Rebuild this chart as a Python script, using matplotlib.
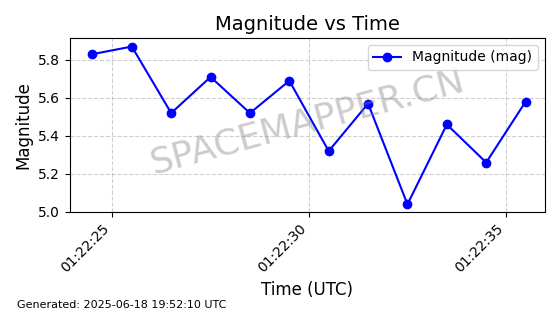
import pandas as pd
import matplotlib
matplotlib.use('Agg')
import matplotlib.pyplot as plt
import matplotlib.dates as mdates

# 觀測時間 與 星等
times = pd.to_datetime([
    '2025-06-18 01:22:24.5', '2025-06-18 01:22:25.5', '2025-06-18 01:22:26.5',
    '2025-06-18 01:22:27.5', '2025-06-18 01:22:28.5', '2025-06-18 01:22:29.5',
    '2025-06-18 01:22:30.5', '2025-06-18 01:22:31.5', '2025-06-18 01:22:32.5',
    '2025-06-18 01:22:33.5', '2025-06-18 01:22:34.5', '2025-06-18 01:22:35.5',
])
mags = [5.83, 5.87, 5.52, 5.71, 5.52, 5.69, 5.32, 5.57, 5.04, 5.46, 5.26, 5.58]
yticks = [5.0, 5.2, 5.4, 5.6, 5.8]
footer = 'Generated: 2025-06-18 19:52:10 UTC'

fig = plt.figure(figsize=(5.6, 3.14), dpi=100)
ax = fig.add_axes([0.125, 0.325, 0.848, 0.554])

ax.plot(times, mags, color='blue', marker='o', markersize=6, linewidth=1.5,
        label='Magnitude (mag)')

ax.set_title('Magnitude vs Time', fontsize=14)
ax.set_xlabel('Time (UTC)', fontsize=12)
ax.set_ylabel('Magnitude', fontsize=12)
ax.set_yticks(yticks)
ax.set_ylim(5.0, 5.915)
ax.set_xlim(pd.Timestamp('2025-06-18 01:22:23.93'), pd.Timestamp('2025-06-18 01:22:35.99'))
ax.xaxis.set_major_locator(mdates.SecondLocator(bysecond=[25, 30, 35]))
ax.xaxis.set_major_formatter(mdates.DateFormatter('%H:%M:%S'))
plt.setp(ax.get_xticklabels(), rotation=45, ha='right')
ax.grid(True, linestyle='--', alpha=0.6)
ax.legend(loc='upper right')

# 浮水印
ax.text(0.5, 0.52, 'SPACEMAPPER.CN', transform=ax.transAxes, fontsize=26,
        color='gray', alpha=0.4, rotation=15, ha='center', va='center')

fig.text(0.03, 0.02, footer, fontsize=8)

fig.savefig('out.png', dpi=100)
